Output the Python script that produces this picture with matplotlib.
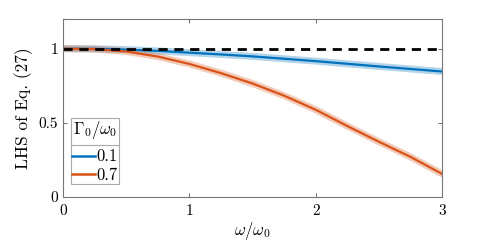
import numpy as np
import matplotlib
matplotlib.use("Agg")
import matplotlib.pyplot as plt
from matplotlib.lines import Line2D

plt.rcParams['font.family'] = 'serif'
plt.rcParams['font.serif'] = ['cmr10', 'DejaVu Serif']
plt.rcParams['mathtext.fontset'] = 'cm'
plt.rcParams['axes.formatter.use_mathtext'] = True

# data
x = [0.0, 0.25, 0.5, 0.75, 1.0, 1.25, 1.5, 1.75, 2.0, 2.25, 2.5, 2.75, 3.0]
y_01 = [1.0, 0.999, 0.994, 0.985, 0.973, 0.961, 0.948, 0.932, 0.916, 0.898, 0.88, 0.863, 0.846]
y_07 = [1.0, 0.997, 0.981, 0.947, 0.897, 0.835, 0.765, 0.683, 0.588, 0.478, 0.372, 0.27, 0.155]
labels = ['0.1', '0.7']
xticks = [0, 1, 2, 3]
yticks = [0, 0.5, 1]
ytick_labels = ['0', '0.5', '1']

blue = (0.0, 0.447, 0.741)
orange = (0.85, 0.325, 0.098)

fig = plt.figure(figsize=(4.88, 2.44), dpi=100)
ax = fig.add_axes([0.129, 0.193, 0.777, 0.729])

for ys, c in [(y_01, blue), (y_07, orange)]:
    ax.plot(x, ys, color=c, lw=5, alpha=0.3, solid_capstyle='round')
ax.plot(x, y_01, color=blue, lw=1.6)
ax.plot(x, y_07, color=orange, lw=1.6)
ax.plot([0, 3], [1, 1], color='black', lw=2, dashes=(3.3, 2.4))

ax.set_xlim(0, 3)
ax.set_ylim(0, 1.2)
ax.set_xticks(xticks)
ax.set_xticklabels([str(t) for t in xticks])
ax.set_yticks(yticks)
ax.set_yticklabels(ytick_labels)
ax.tick_params(direction='in', top=True, right=True, labelsize=11, length=3,
               color='#555555', width=0.6)
ax.tick_params(axis='x', pad=5)
for s in ax.spines.values():
    s.set_color('#777777')
    s.set_linewidth(0.8)
ax.set_xlabel(r'$\omega/\omega_0$', fontsize=12, labelpad=2)
ax.set_ylabel('LHS of Eq. (27)', fontsize=12.5, labelpad=4)

handles = [Line2D([], [], color=blue, lw=1.8), Line2D([], [], color=orange, lw=1.8)]
leg = ax.legend(handles, labels, title=r'$\Gamma_0/\omega_0$', loc='lower left',
                bbox_to_anchor=(0.021, 0.073), fontsize=12, title_fontsize=12,
                frameon=True, fancybox=False, edgecolor='#aaaaaa', framealpha=1,
                handlelength=1.4, handletextpad=0.1, borderpad=0.05,
                labelspacing=0.2, borderaxespad=0)
leg.get_frame().set_linewidth(0.8)
leg._legend_box.sep = 6

fig.canvas.draw()
r = fig.canvas.get_renderer()
fb = leg.get_frame().get_window_extent(r)
tb = leg.get_title().get_window_extent(r)
hb = leg._legend_handle_box.get_window_extent(r)
ysep = 0.5 * (tb.y0 + hb.y1)
inv = fig.transFigure.inverted()
(x0f, yf) = inv.transform((fb.x0, ysep))
(x1f, _) = inv.transform((fb.x1, ysep))
fig.add_artist(Line2D([x0f, x1f], [yf, yf], color='#aaaaaa', lw=0.8, transform=fig.transFigure))

fig.savefig('out.png', dpi=100)
